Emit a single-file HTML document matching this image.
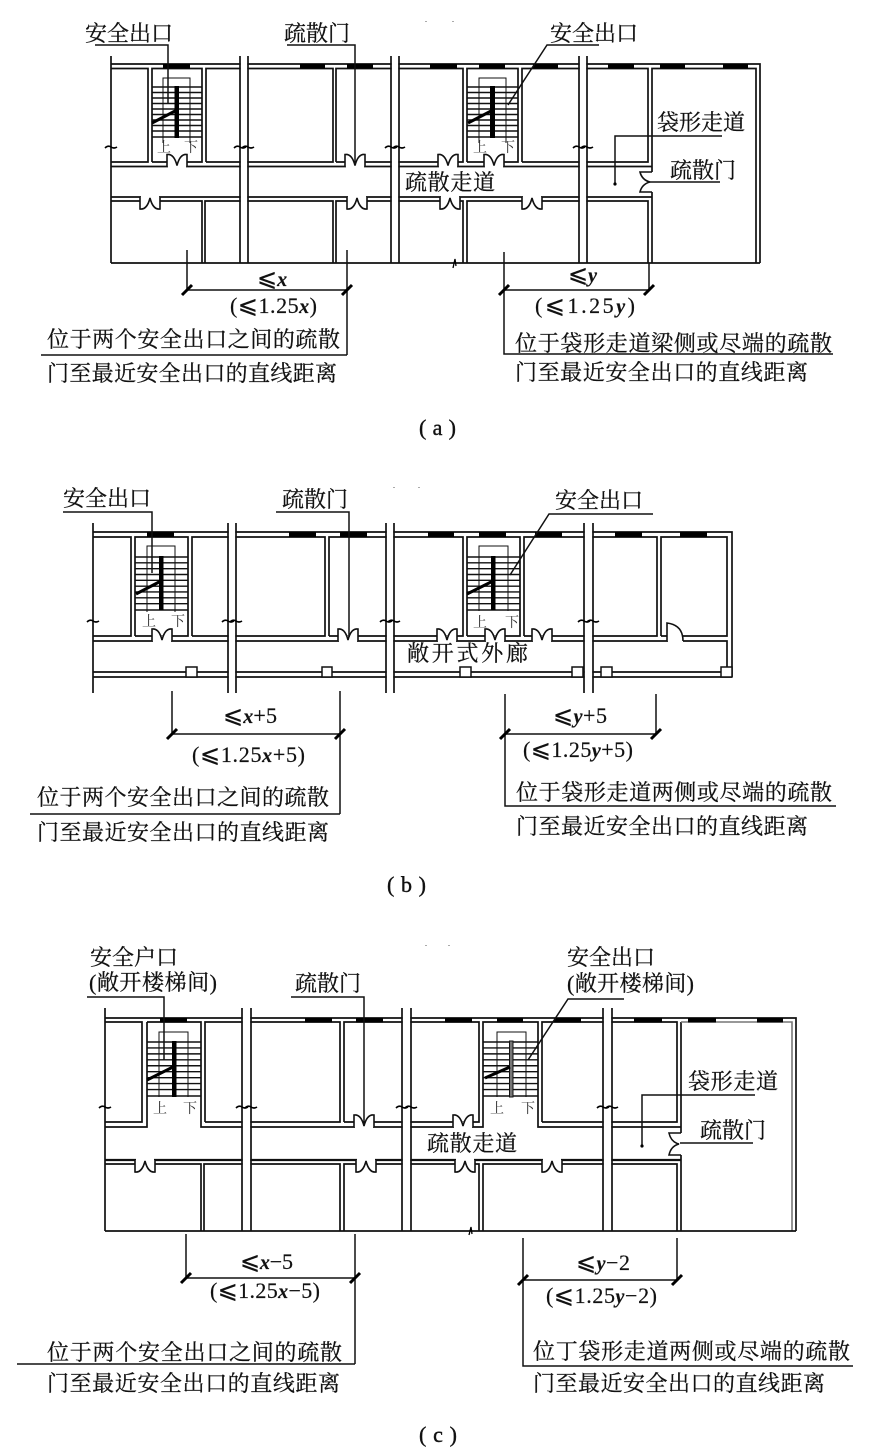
<!DOCTYPE html>
<html><head><meta charset="utf-8"><style>
html,body{margin:0;padding:0;background:#fff}
svg{display:block}
.w{fill:none;stroke:#111;stroke-width:1.7}
.t{fill:none;stroke:#111;stroke-width:1}
.l{fill:none;stroke:#111;stroke-width:1.5}
.b{fill:#000;stroke:none}
.k{fill:none;stroke:#000;stroke-width:3}
.c{font-family:"Liberation Serif","Noto Serif CJK SC",serif;font-size:22px;fill:#111;stroke:#111;stroke-width:.25}
.s{font-family:"Noto Serif CJK SC",serif;font-size:14px;fill:#333}
.m{font-family:"Liberation Serif","DejaVu Sans",serif;font-size:22px;fill:#111;stroke:#111;stroke-width:.2}
.i{font-style:italic;font-weight:bold;font-size:20px}
.e{font-size:24px}
.p{font-family:"Liberation Serif",serif;font-size:22px;fill:#111;stroke:#111;stroke-width:.4}
</style></head><body>
<svg width="878" height="1456" viewBox="0 0 878 1456" xmlns="http://www.w3.org/2000/svg">
<defs>
<g id="du"><rect x="-9" y="-5.5" width="18" height="7.5" fill="#fff"/><path d="M-10,0V-12Q-3,-13 0,-1Q3,-13 10,-12V0" fill="#fff" stroke="#111" stroke-width="1.6"/></g>
<path id="tr" d="M0,0H100M0,11H100M0,22H100M0,33H100M0,44H100M0,55H100M0,66H100M0,77H100M0,88H100M0,100H100" fill="none" stroke="#111" stroke-width="1.4" vector-effect="non-scaling-stroke"/>
<path id="bk" d="M-6,1Q-3,-2 0,0T6,0" fill="none" stroke="#000" stroke-width="1.6"/>
</defs>
<rect width="878" height="1456" fill="#fff"/>

<!-- ===== (a) ===== -->
<path class="w" d="M111,56V263M111,64H760V263M111,68.5H148V162H111M152,162V68.5H202V162H152M206,162V68.5H333V162H206M336,162V68.5H463V162H336M467,162V68.5H518V162H467M522,162V68.5H648V162H522M652,172V68.5H756V263M111,166.5H652V172M111,197H652M652,192V263M111,201H202V263M205,263V201H333V263M336,263V201H463V263M467,263V201H648V263"/>
<use href="#tr" transform="translate(152,87) scale(.5,.5)"/>
<use href="#tr" transform="translate(467,87) scale(.51,.5)"/>
<path class="t" d="M163,143V78H190V143M479,143V78H506V143"/>
<rect class="b" x="174.5" y="86" width="4.5" height="52"/>
<rect class="b" x="490" y="86" width="5" height="52"/>
<path class="k" d="M152,123L177,110M468,123L493,110"/>
<g class="b">
<rect x="163" y="64" width="27" height="4.5"/><rect x="300" y="64" width="25" height="4.5"/><rect x="347" y="64" width="26" height="4.5"/><rect x="430" y="64" width="27" height="4.5"/><rect x="479" y="64" width="26" height="4.5"/><rect x="533" y="64" width="25" height="4.5"/><rect x="608" y="64" width="26" height="4.5"/><rect x="660" y="64" width="25" height="4.5"/><rect x="723" y="64" width="25" height="4.5"/>
</g>
<use href="#du" transform="translate(177,166.5)"/><use href="#du" transform="translate(355,166.5)"/><use href="#du" transform="translate(448,166.5)"/><use href="#du" transform="translate(494,166.5)"/>
<use href="#du" transform="translate(150,197) scale(1,-1)"/><use href="#du" transform="translate(357,197) scale(1,-1)"/><use href="#du" transform="translate(450,197) scale(1,-1)"/><use href="#du" transform="translate(532,197) scale(1,-1)"/>
<rect x="646" y="173" width="8" height="18" fill="#fff"/>
<path d="M652,172H640Q642,180 650,182Q642,184 640,192H652" fill="#fff" stroke="#111" stroke-width="1.6"/>
<g fill="#fff"><rect x="240.7" y="56" width="6.6" height="207"/><rect x="391.7" y="56" width="6.6" height="207"/><rect x="579.7" y="56" width="6.6" height="207"/></g>
<path class="w" d="M240,56V263M248,56V263M391,56V263M399,56V263M579,56V263M587,56V263M111,263H760"/>
<use href="#bk" x="111" y="147"/><use href="#bk" x="240" y="147"/><use href="#bk" x="248" y="147"/><use href="#bk" x="391" y="147"/><use href="#bk" x="399" y="147"/><use href="#bk" x="579" y="147"/><use href="#bk" x="587" y="147"/>
<path d="M453,268L455,259L456,266" fill="none" stroke="#000" stroke-width="1.3"/>
<path class="l" d="M95,45H168V103M287,45H355V163M599,45H547L508,105M722,136H615V184M720,182H650M187,250V290M347,250V355M41,355H347M187,290H347M504,252V354H833M649,263V290M504,290H649"/>
<circle cx="615" cy="184" r="1.6"/>
<path class="k" d="M182,295L192,285M342,295L352,285M499,295L509,285M644,295L654,285"/>
<text class="c" x="85" y="41" textLength="88">安全出口</text>
<text class="c" x="284" y="41" textLength="66">疏散门</text>
<text class="c" x="550" y="41" textLength="88">安全出口</text>
<text class="c" x="657" y="130" textLength="88">袋形走道</text>
<text class="c" x="670" y="178" textLength="66">疏散门</text>
<text class="c" x="405" y="190" textLength="90">疏散走道</text>
<text class="s" x="157" y="152">上</text><text class="s" x="184" y="152">下</text>
<text class="s" x="473" y="152">上</text><text class="s" x="501" y="152">下</text>
<text class="m" x="257" y="286"><tspan class="e">⩽</tspan><tspan class="i">x</tspan></text>
<text class="m" x="230" y="313" textLength="87">(<tspan class="e">⩽</tspan>1.25<tspan class="i">x</tspan>)</text>
<text class="m" x="568" y="282"><tspan class="e">⩽</tspan><tspan class="i">y</tspan></text>
<text class="m" x="535" y="313" textLength="100">(<tspan class="e">⩽</tspan>1.25<tspan class="i">y</tspan>)</text>
<text class="c" x="47" y="347" textLength="293">位于两个安全出口之间的疏散</text>
<text class="c" x="47" y="381" textLength="290">门至最近安全出口的直线距离</text>
<text class="c" x="515" y="351" textLength="317">位于袋形走道梁侧或尽端的疏散</text>
<text class="c" x="515" y="380" textLength="293">门至最近安全出口的直线距离</text>
<text class="p" x="419" y="435" textLength="37">(a)</text>

<!-- ===== (b) ===== -->
<path class="w" d="M93,523V693M93,532H732V677M93,537H131V636H93M135,636V537H188V636H135M192,636V537H325V636H192M329,636V537H463V636H329M467,636V537H520V636H467M524,636V537H657V636H524M661,636V537H727V636H661M93,641H727V672M93,672H721M93,677H732"/>
<use href="#tr" transform="translate(135,557) scale(.53,.53)"/>
<use href="#tr" transform="translate(467,557) scale(.53,.53)"/>
<path class="t" d="M147,612V546H175V612M479,611V546H508V611"/>
<rect class="b" x="159" y="556" width="4.5" height="54"/>
<rect class="b" x="491" y="556" width="4.5" height="54"/>
<path class="k" d="M136,594L161,581M467,594L493,581"/>
<g class="b">
<rect x="147" y="532" width="27" height="5"/><rect x="289" y="532" width="27" height="5"/><rect x="340" y="532" width="27" height="5"/><rect x="428" y="532" width="26" height="5"/><rect x="479" y="532" width="27" height="5"/><rect x="535" y="532" width="27" height="5"/><rect x="615" y="532" width="27" height="5"/><rect x="680" y="532" width="27" height="5"/>
</g>
<use href="#du" transform="translate(162,641)"/><use href="#du" transform="translate(348,641)"/><use href="#du" transform="translate(447,641)"/><use href="#du" transform="translate(495,641)"/><use href="#du" transform="translate(542,641)"/>
<rect x="668" y="634" width="15" height="9" fill="#fff"/>
<path d="M667,641V623Q683,625 683,641" fill="#fff" stroke="#111" stroke-width="1.6"/>
<g fill="#fff" stroke="#111" stroke-width="1.5"><rect x="186" y="667" width="11" height="10"/><rect x="322" y="667" width="10" height="10"/><rect x="460" y="667" width="11" height="10"/><rect x="572" y="667" width="11" height="10"/><rect x="601" y="667" width="11" height="10"/><rect x="721" y="667" width="11" height="10"/></g>
<g fill="#fff"><rect x="228.7" y="523" width="6.6" height="170"/><rect x="386.7" y="523" width="6.6" height="170"/><rect x="584.7" y="523" width="7.6" height="170"/></g>
<path class="w" d="M228,523V693M236,523V693M386,523V693M394,523V693M584,523V693M593,523V693"/>
<use href="#bk" x="93" y="621"/><use href="#bk" x="228" y="621"/><use href="#bk" x="236" y="621"/><use href="#bk" x="386" y="621"/><use href="#bk" x="394" y="621"/><use href="#bk" x="584" y="621"/><use href="#bk" x="593" y="621"/>
<path class="l" d="M63,512H152V573M276,512H349V637M653,514H549L510,575M172,691V734M340,691V814M30,814H340M172,734H340M505,694V806H836M656,694V734M505,734H656"/>
<path class="k" d="M167,739L177,729M335,739L345,729M500,739L510,729M651,739L661,729"/>
<text class="c" x="63" y="506" textLength="88">安全出口</text>
<text class="c" x="282" y="507" textLength="66">疏散门</text>
<text class="c" x="555" y="508" textLength="88">安全出口</text>
<rect x="405" y="644" width="124" height="21" fill="#fff"/>
<text class="c" x="407" y="661" textLength="121">敞开式外廊</text>
<text class="s" x="142" y="626">上</text><text class="s" x="171" y="626">下</text>
<text class="s" x="473" y="627">上</text><text class="s" x="505" y="627">下</text>
<text class="m" x="223" y="723" textLength="54"><tspan class="e">⩽</tspan><tspan class="i">x</tspan>+5</text>
<text class="m" x="192" y="762" textLength="113">(<tspan class="e">⩽</tspan>1.25<tspan class="i">x</tspan>+5)</text>
<text class="m" x="553" y="723" textLength="54"><tspan class="e">⩽</tspan><tspan class="i">y</tspan>+5</text>
<text class="m" x="523" y="757" textLength="110">(<tspan class="e">⩽</tspan>1.25<tspan class="i">y</tspan>+5)</text>
<text class="c" x="37" y="805" textLength="292">位于两个安全出口之间的疏散</text>
<text class="c" x="37" y="840" textLength="292">门至最近安全出口的直线距离</text>
<text class="c" x="516" y="800" textLength="316">位于袋形走道两侧或尽端的疏散</text>
<text class="c" x="516" y="834" textLength="292">门至最近安全出口的直线距离</text>
<text class="p" x="387" y="892" textLength="39">(b)</text>

<!-- ===== (c) ===== -->
<path class="w" d="M105,1008V1231M105,1018H796V1231M105,1022H142V1122H105M147,1022V1127H105M147,1022H201V1127H483V1022H538V1127H681V1133M205,1122V1022H340V1122H205M344,1122V1022H479V1122H344M542,1122V1022H677V1122H542M681,1022V1133M681,1155V1231M105,1160H681M105,1164H201V1231M204,1231V1164H340V1231M344,1231V1164H479V1231M483,1231V1164H677V1231"/>
<path d="M681,1022H792V1231" fill="none" stroke="#777" stroke-width="1.6"/>
<path d="M105,1160H681" fill="none" stroke="#111" stroke-width="2.2"/>
<use href="#tr" transform="translate(147,1042) scale(.54,.54)"/>
<use href="#tr" transform="translate(483,1042) scale(.55,.54)"/>
<path class="t" d="M159,1097V1032H188V1097M497,1097V1032H526V1097"/>
<rect class="b" x="172" y="1041" width="4.5" height="56"/>
<rect x="509.5" y="1041" width="3.5" height="56" fill="#777" stroke="#111" stroke-width="1"/>
<path class="k" d="M147,1080L173,1067M485,1078L510,1067"/>
<g class="b">
<rect x="160" y="1018" width="27" height="4.5"/><rect x="305" y="1018" width="27" height="4.5"/><rect x="356" y="1018" width="27" height="4.5"/><rect x="445" y="1018" width="27" height="4.5"/><rect x="497" y="1018" width="26" height="4.5"/><rect x="554" y="1018" width="27" height="4.5"/><rect x="634" y="1018" width="28" height="4.5"/><rect x="688" y="1018" width="28" height="4.5"/><rect x="757" y="1018" width="26" height="4.5"/>
</g>
<use href="#du" transform="translate(364,1127)"/><use href="#du" transform="translate(463,1127)"/>
<use href="#du" transform="translate(145,1160) scale(1,-1)"/><use href="#du" transform="translate(366,1160) scale(1,-1)"/><use href="#du" transform="translate(465,1160) scale(1,-1)"/><use href="#du" transform="translate(552,1160) scale(1,-1)"/>
<path d="M681,1133H669Q671,1142 679,1144Q671,1146 669,1155H681" fill="#fff" stroke="#111" stroke-width="1.6"/>
<g fill="#fff"><rect x="242.7" y="1008" width="7.6" height="223"/><rect x="402.7" y="1008" width="7.6" height="223"/><rect x="603.7" y="1008" width="7.6" height="223"/></g>
<path class="w" d="M242,1008V1231M251,1008V1231M402,1008V1231M411,1008V1231M603,1008V1231M612,1008V1231M105,1231H796"/>
<use href="#bk" x="105" y="1107"/><use href="#bk" x="242" y="1107"/><use href="#bk" x="251" y="1107"/><use href="#bk" x="402" y="1107"/><use href="#bk" x="411" y="1107"/><use href="#bk" x="603" y="1107"/><use href="#bk" x="612" y="1107"/>
<path d="M469,1235L471,1227L472,1234" fill="none" stroke="#000" stroke-width="1.3"/>
<path class="l" d="M87,997H164V1060M291,997H364V1124M624,999H568L528,1060M755,1095H642V1146M753,1143H680M186,1234V1278M355,1234V1364M17,1364H355M186,1278H355M523,1238V1366H853M677,1238V1280M523,1280H677"/>
<circle cx="642" cy="1146" r="1.6"/>
<path class="k" d="M181,1283L191,1273M350,1283L360,1273M518,1285L528,1275M672,1285L682,1275"/>
<text class="c" x="90" y="965" textLength="88">安全户口</text>
<text class="c" x="89" y="990" textLength="128">(敞开楼梯间)</text>
<text class="c" x="295" y="991" textLength="66">疏散门</text>
<text class="c" x="567" y="965" textLength="88">安全出口</text>
<text class="c" x="567" y="991" textLength="127">(敞开楼梯间)</text>
<text class="c" x="688" y="1089" textLength="90">袋形走道</text>
<text class="c" x="700" y="1138" textLength="66">疏散门</text>
<text class="c" x="427" y="1151" textLength="90">疏散走道</text>
<text class="s" x="153" y="1113">上</text><text class="s" x="183" y="1113">下</text>
<text class="s" x="490" y="1113">上</text><text class="s" x="521" y="1113">下</text>
<text class="m" x="240" y="1269" textLength="53"><tspan class="e">⩽</tspan><tspan class="i">x</tspan>−5</text>
<text class="m" x="210" y="1298" textLength="110">(<tspan class="e">⩽</tspan>1.25<tspan class="i">x</tspan>−5)</text>
<text class="m" x="576" y="1270" textLength="54"><tspan class="e">⩽</tspan><tspan class="i">y</tspan>−2</text>
<text class="m" x="546" y="1303" textLength="111">(<tspan class="e">⩽</tspan>1.25<tspan class="i">y</tspan>−2)</text>
<text class="c" x="47" y="1360" textLength="295">位于两个安全出口之间的疏散</text>
<text class="c" x="47" y="1391" textLength="293">门至最近安全出口的直线距离</text>
<text class="c" x="533" y="1359" textLength="317">位丁袋形走道两侧或尽端的疏散</text>
<text class="c" x="533" y="1391" textLength="292">门至最近安全出口的直线距离</text>
<text class="p" x="419" y="1442" textLength="38">(c)</text>

<!-- scan specks -->
<g fill="#aaa"><rect x="425" y="21" width="2" height="1"/><rect x="452" y="21" width="2" height="1"/><rect x="393" y="487" width="2" height="1"/><rect x="418" y="487" width="2" height="1"/><rect x="425" y="945" width="2" height="1"/><rect x="448" y="945" width="2" height="1"/></g>
</svg>
</body></html>
